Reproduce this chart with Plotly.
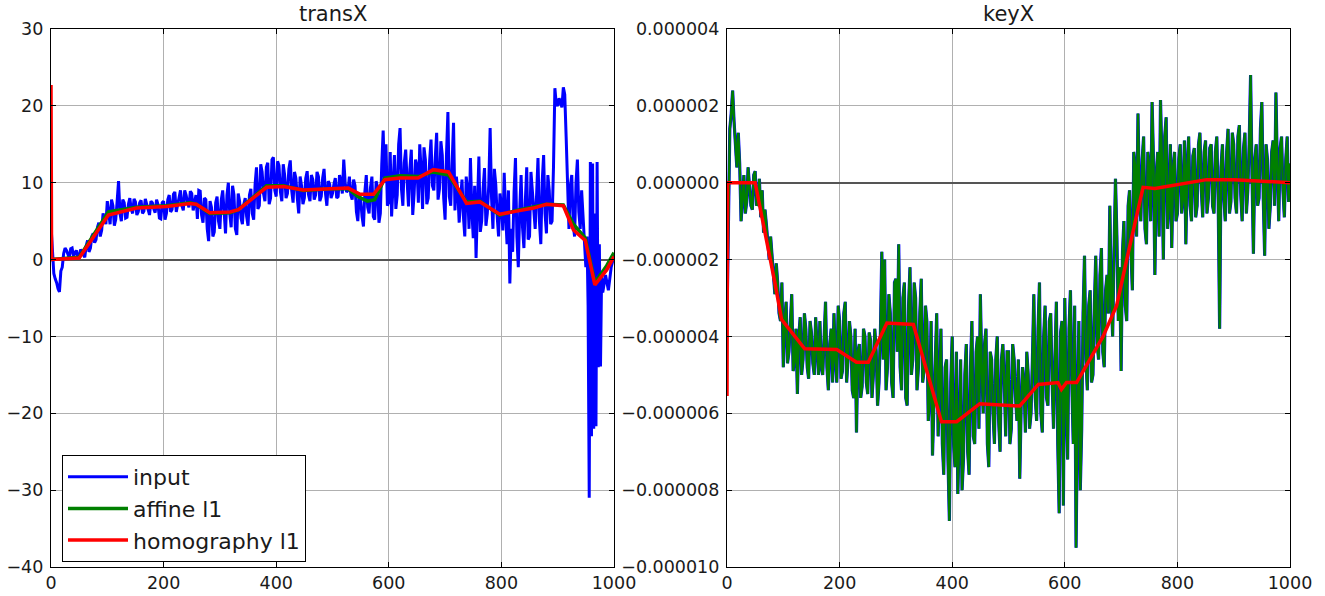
import plotly.graph_objects as go

# ---------------- data: transX ----------------
transx_x_main = list(range(0, 951, 5)) + [952, 954, 956, 958, 960, 962, 964, 966, 968, 970, 972, 974, 976, 978] + [980, 985, 990, 995, 1000]
transx_input_main = [
    4.5, -1.8, -3.0, -4.2, -1.0, 1.5, 0.6, 1.4, 0.5, 1.2,
    0.4, 1.0, 0.3, 2.5, 1.5, 3.4, 2.6, 4.8, 3.8, 5.3,
    7.6, 4.6, 7.0, 5.2, 10.2, 5.0, 7.4, 5.5, 8.0, 6.0,
    7.5, 6.2, 7.7, 6.3, 7.3, 5.8, 7.4, 6.1, 7.2, 5.3,
    7.6, 6.0, 8.4, 6.5, 8.8, 7.0, 9.0, 6.4, 8.4, 6.8,
    8.6, 7.2, 5.3, 8.9, 4.8, 7.8, 2.4, 6.8, 3.6, 8.2,
    4.0, 9.0, 3.4, 10.0, 4.2, 8.4, 3.2, 7.6, 4.6, 8.0,
    4.4, 9.2, 5.2, 12.0, 7.0, 11.4, 7.6, 12.6, 8.0, 13.3,
    8.2, 12.2, 7.6, 11.0, 8.6, 12.9, 7.4, 10.6, 6.0, 9.6,
    8.0, 11.5, 7.6, 10.4, 8.4, 10.8, 8.2, 11.8, 7.0, 9.8,
    8.6, 10.6, 8.2, 10.2, 13.0, 8.8, 10.8, 7.8, 9.6, 5.0,
    7.8, 4.3, 11.0, 6.0, 10.8, 5.2, 9.4, 6.0, 16.8, 15.0,
    7.6, 5.6, 13.6, 8.4, 17.1, 7.0, 14.3, 6.9, 14.3, 8.6,
    12.2, 15.0, 6.6, 13.0, 8.0, 15.6, 9.0, 16.5, 9.2, 13.6,
    5.2, 19.2, 7.0, 17.8, 10.8, 4.8, 10.4, 3.0, 9.0, 13.2,
    2.8, 0.2, 13.4, 5.0, 11.9, 6.0, 17.1, 4.0, 9.8, 3.0,
    7.2, 11.3, 2.0, -3.1, 1.0, 13.2, -1.0, 11.0, 1.5, 12.0,
    3.0, 9.0, 4.0, 13.2, 2.0, 13.6, 3.4, 9.0, 5.0, 22.3,
    20.0, 20.5, 22.4, 16.0, 4.0, 11.0, 3.0, 13.0, 4.0, 6.0,
    -1.0,
    3.0, -6.0, -31.0, 12.7, -23.0, 12.5, -22.0, 6.0, -21.7, 12.7, -14.0, 2.0, -13.9, -2.0,
    -4.3, -2.0, -4.0, -1.0, 0.5,
]
# readings taken half-way between the main readings (x = 2.5, 7.5, ..., 947.5)
transx_x_mid = [v + 2.5 for v in range(0, 950, 5)]
transx_input_mid = [
    0.5, -2.5, -3.8, -1.5, 0.8, 1.2, 0.2, 1.5, 0.9, 0.3,
    1.3, 0.6, 1.8, 1.0, 3.0, 2.2, 4.2, 3.0, 6.0, 4.6,
    5.6, 7.8, 4.4, 7.6, 6.0, 7.8, 5.4, 7.2, 6.6, 7.9,
    5.8, 7.4, 6.0, 7.9, 6.6, 7.6, 6.6, 7.8, 5.4, 7.4,
    5.2, 7.8, 6.2, 8.5, 6.2, 8.2, 7.0, 9.0, 7.4, 8.9,
    6.4, 8.4, 9.0, 5.8, 8.0, 4.0, 7.6, 3.0, 7.4, 5.0,
    7.8, 5.2, 8.4, 6.0, 9.6, 4.0, 8.6, 5.4, 7.2, 5.6,
    8.4, 6.0, 9.8, 6.6, 12.4, 8.6, 12.0, 7.2, 13.0, 9.0,
    12.8, 8.8, 12.4, 8.0, 11.8, 9.0, 11.4, 8.0, 10.8, 7.2,
    10.6, 8.4, 11.0, 7.8, 11.4, 7.6, 10.6, 8.6, 10.2, 8.0,
    9.8, 8.0, 11.0, 8.6, 10.0, 9.0, 8.4, 10.4, 6.2, 8.6,
    5.6, 8.8, 6.8, 9.4, 5.6, 10.2, 4.8, 12.4, 10.0, 7.0,
    14.0, 9.6, 6.6, 15.0, 9.2, 12.6, 10.2, 11.8, 5.8, 13.0,
    7.4, 11.4, 14.6, 7.2, 12.8, 9.6, 13.2, 7.8, 15.4, 8.0,
    13.8, 8.2, 12.6, 6.4, 9.0, 7.8, 5.6, 10.8, 4.0, 6.4,
    9.6, 7.0, 3.6, 9.2, 4.4, 9.6, 8.0, 11.8, 5.6, 8.6,
    3.8, 6.0, 9.0, 4.0, 8.8, 3.0, 6.4, 4.2, 7.6, 2.6,
    11.4, 5.6, 8.4, 5.0, 10.2, 6.0, 11.0, 4.6, 12.0, 20.2,
    21.0, 19.8, 21.5, 8.0, 9.6, 4.6, 10.0, 6.2, 9.0, 2.0,
]

transx_affine_x = [0, 50, 102, 152, 205, 247, 258, 282, 318, 333, 383, 413, 448, 496, 528, 545, 562, 575, 593,
                   620, 652, 679, 706, 738, 762, 797, 827, 857, 880, 910, 928, 949, 966, 987, 1000]
transx_affine = [0.0, 0.3, 6.2, 6.8, 7.0, 7.4, 7.2, 6.0, 6.1, 6.5, 9.6, 9.6, 9.0, 9.2, 9.2, 8.2, 7.6, 7.8, 10.6,
                 10.9, 10.8, 11.4, 11.0, 7.5, 7.6, 5.8, 6.4, 6.8, 7.2, 7.1, 4.6, 2.8, -3.0, -0.8, 0.9]

transx_homog_x = [0, 1, 50, 102, 152, 205, 247, 258, 282, 318, 333, 383, 413, 448, 496, 528, 549, 573, 593,
                  620, 652, 679, 706, 738, 762, 797, 827, 857, 880, 910, 928, 949, 966, 987, 1000]
transx_homog = [22.7, 0.0, 0.2, 5.8, 6.7, 6.9, 7.3, 7.2, 6.1, 6.2, 6.5, 9.4, 9.5, 9.05, 9.2, 9.3, 8.5, 8.5, 10.4,
                10.6, 10.6, 11.7, 11.4, 7.3, 7.5, 5.9, 6.3, 6.7, 7.2, 7.0, 3.85, 2.5, -3.3, -1.35, 0.4]

# ---------------- data: keyX (values in units of 1e-6) ----------------
keyx_x_main = list(range(0, 1001, 5))
keyx_input_main_micro = [
    -3.5, 1.4, 2.4, 1.1, 1.3, -1.0, 0.2, -0.5, 0.0, -0.7,
    0.3, -0.5, -0.9, -1.3, -1.1, -2.0, -1.8, -2.9, -2.6, -3.6,
    -4.8, -3.1, -4.4, -2.9, -4.6, -5.5, -3.5, -4.6, -3.8, -5.1,
    -3.9, -5.0, -4.2, -3.6, -5.0, -3.1, -5.4, -3.8, -3.4, -5.2,
    -3.6, -4.9, -3.1, -4.6, -4.0, -5.6, -6.5, -4.2, -5.3, -4.0,
    -5.5, -4.1, -5.0, -4.4, -5.2, -1.8, -2.0, -4.8, -3.4, -5.6,
    -2.5, -1.6, -5.4, -2.6, -5.8, -2.2, -4.6, -3.0, -4.8, -2.5,
    -4.9, -3.6, -5.6, -7.1, -4.2, -6.6, -3.8, -7.6, -4.6, -8.8,
    -4.0, -7.4, -8.1, -4.6, -7.2, -4.2, -7.6, -3.6, -6.8, -4.0,
    -2.9, -6.0, -3.8, -7.4, -4.6, -6.8, -4.0, -7.0, -4.2, -6.6,
    -4.4, -6.4, -4.6, -6.2, -7.7, -4.8, -6.5, -5.0, -6.0, -2.9,
    -6.2, -2.6, -6.5, -3.2, -5.8, -3.4, -6.4, -3.1, -8.6, -3.6,
    -3.0, -7.2, -2.8, -6.8, -9.5, -3.6, -6.4, -1.9, -5.4, -2.8,
    -5.0, -1.9, -4.6, -1.7, -4.8, -2.4, -0.6, -4.0, 0.1, -3.6,
    -4.9, -1.0, -3.6, -0.2, -2.8, 0.4, 1.8, -1.0, 1.2, -1.6,
    0.4, 2.1, -2.4, 0.8, 2.15, -2.0, 1.7, -0.6, -1.7, 0.8,
    -0.8, 1.0, -0.4, -1.6, 1.2, -1.0, 0.9, -0.6, 1.3, -0.9,
    1.1, -0.4, 1.0, -0.8, 1.2, -3.8, 1.0, -1.0, 1.4, -0.5,
    1.0, -0.8, 1.5, -1.0, 1.3, -0.2, 2.8, -1.85, 1.0, -0.4,
    2.1, -1.9, 0.6, -0.6, 1.1, 2.35, -1.0, 1.2, -0.9, 1.2, 0.5,
]
keyx_x_mid = [v + 2.5 for v in range(0, 1000, 5)]
keyx_input_mid_micro = [
    -0.5, 1.8, 1.6, 0.4, 0.5, -0.3, -0.8, 0.4, -0.6, 0.2,
    -0.6, 0.1, -0.2, -0.7, -1.6, -1.4, -2.4, -2.1, -3.4, -2.6,
    -3.6, -4.7, -3.5, -4.9, -3.8, -4.0, -5.0, -3.4, -4.8, -3.6,
    -4.7, -3.5, -5.0, -4.8, -3.8, -4.8, -4.2, -5.2, -4.6, -3.2,
    -5.1, -3.4, -5.2, -3.6, -5.4, -3.8, -4.4, -5.6, -3.8, -5.2,
    -3.9, -5.6, -3.8, -5.8, -3.9, -4.6, -5.4, -2.9, -5.2, -2.6,
    -4.4, -4.8, -3.0, -5.6, -3.2, -5.0, -2.6, -5.4, -3.4, -5.2,
    -3.2, -6.2, -3.6, -5.8, -3.4, -5.4, -6.8, -4.8, -7.2, -5.2,
    -6.8, -4.4, -6.6, -8.0, -5.0, -7.0, -4.8, -6.6, -4.4, -6.4,
    -4.8, -4.2, -6.8, -4.4, -6.0, -4.6, -6.2, -4.6, -5.2, -4.4,
    -6.8, -4.2, -5.6, -4.6, -5.8, -5.2, -4.4, -6.4, -4.6, -5.6,
    -3.8, -6.0, -4.0, -5.6, -3.6, -5.2, -4.6, -6.8, -3.9, -8.4,
    -5.6, -3.8, -5.2, -3.2, -6.0, -8.0, -3.4, -4.6, -3.2, -5.2,
    -3.2, -4.2, -2.4, -4.4, -2.8, -3.4, -3.0, -1.8, -1.4, -2.2,
    -1.8, -3.2, -0.6, -1.8, 0.8, -1.4, -0.4, 0.6, -1.2, 0.8,
    -1.0, 0.6, 0.2, -1.4, 0.6, 1.2, -1.2, 1.0, 0.4, -1.0,
    0.6, -0.8, 1.1, 0.4, -0.6, 0.7, -0.9, 1.0, -0.2, 0.8,
    -0.8, 0.9, -0.6, 0.8, -0.5, 0.4, -0.4, 0.8, -0.8, 1.3,
    -0.4, 1.2, -0.3, 0.9, -0.8, 1.0, 0.2, 0.6, -0.6, 1.4,
    -0.4, 1.0, -1.2, 0.8, -0.6, 0.4, 0.9, -0.2, 0.6, -0.5,
]

keyx_homog_x = [0, 1, 50, 76, 85, 97, 138, 195, 230, 251, 284, 331, 381, 408, 449, 520, 553, 588, 594, 603,
                621, 668, 692, 710, 739, 760, 781, 852, 900, 1000]
keyx_homog_micro = [-5.55, 0.0, 0.0, -1.9, -2.6, -3.56, -4.32, -4.34, -4.67, -4.67, -3.65, -3.69, -6.22, -6.22,
                    -5.75, -5.81, -5.25, -5.2, -5.38, -5.2, -5.2, -4.0, -3.2, -2.0, -0.12, -0.15, -0.1, 0.08,
                    0.08, 0.0]

# ---------------- labels ----------------
titles = ["transX", "keyX"]
series_names = ["input", "affine l1", "homography l1"]
x_ticks = [0, 200, 400, 600, 800, 1000]
left_yticks = [-40, -30, -20, -10, 0, 10, 20, 30]
right_yticks = [-1e-5, -8e-6, -6e-6, -4e-6, -2e-6, 0, 2e-6, 4e-6]
right_ytext = ["\u22120.000010", "\u22120.000008", "\u22120.000006", "\u22120.000004", "\u22120.000002",
               "0.000000", "0.000002", "0.000004"]


def merge(xa, ya, xb, yb):
    pts = sorted(zip(list(xa) + list(xb), list(ya) + list(yb)))
    return [p[0] for p in pts], [p[1] for p in pts]


transx_x, transx_input = merge(transx_x_main, transx_input_main, transx_x_mid, transx_input_mid)
MICRO = 1e-6
keyx_x, keyx_input_micro = merge(keyx_x_main, keyx_input_main_micro, keyx_x_mid, keyx_input_mid_micro)
keyx_input = [v * MICRO for v in keyx_input_micro]
keyx_affine = list(keyx_input)          # affine l1 coincides with the input on keyX
keyx_homog = [v * MICRO for v in keyx_homog_micro]

BLUE, GREEN, RED = "#0000ff", "#008000", "#ff0000"
FONT = "DejaVu Sans"
TXT = "#1a1a1a"
W, H = 1325, 596

fig = go.Figure()
fig.add_trace(go.Scatter(x=transx_x, y=transx_input, mode="lines", name=series_names[0],
                         line=dict(color=BLUE, width=3.0), xaxis="x", yaxis="y", legendgroup="a"))
fig.add_trace(go.Scatter(x=transx_affine_x, y=transx_affine, mode="lines", name=series_names[1],
                         line=dict(color=GREEN, width=3.5), xaxis="x", yaxis="y", legendgroup="b"))
fig.add_trace(go.Scatter(x=transx_homog_x, y=transx_homog, mode="lines", name=series_names[2],
                         line=dict(color=RED, width=3.5), xaxis="x", yaxis="y", legendgroup="c"))

fig.add_trace(go.Scatter(x=keyx_x, y=keyx_input, mode="lines", name=series_names[0], showlegend=False,
                         line=dict(color=BLUE, width=3.2), xaxis="x2", yaxis="y2"))
fig.add_trace(go.Scatter(x=keyx_x, y=keyx_affine, mode="lines", name=series_names[1], showlegend=False,
                         line=dict(color=GREEN, width=2.4), xaxis="x2", yaxis="y2"))
fig.add_trace(go.Scatter(x=keyx_homog_x, y=keyx_homog, mode="lines", name=series_names[2], showlegend=False,
                         line=dict(color=RED, width=3.5), xaxis="x2", yaxis="y2"))

x1dom = [51 / W, 614 / W]
x2dom = [727 / W, 1290 / W]
ydom = [(H - 567) / H, (H - 29) / H]

axis_common = dict(showline=True, linecolor="black", linewidth=1.2, mirror="ticks", ticks="inside",
                   ticklen=5, tickcolor="black", showgrid=True, gridcolor="#b0b0b0", gridwidth=1,
                   tickfont=dict(family=FONT, size=17.5, color=TXT), automargin=False)

fig.update_layout(
    width=W, height=H,
    margin=dict(l=0, r=0, t=0, b=0),
    paper_bgcolor="white", plot_bgcolor="white",
    font=dict(family=FONT),
    xaxis=dict(domain=x1dom, range=[0, 1000], tickvals=x_ticks, anchor="y", zeroline=False, **axis_common),
    yaxis=dict(domain=ydom, range=[-40, 30], tickvals=left_yticks, anchor="x", zeroline=True,
               zerolinecolor="#555555", zerolinewidth=1.5, ticklabelstandoff=3, **axis_common),
    xaxis2=dict(domain=x2dom, range=[0, 1000], tickvals=x_ticks, anchor="y2", zeroline=False, **axis_common),
    yaxis2=dict(domain=ydom, range=[-1e-5, 4e-6], tickvals=right_yticks, ticktext=right_ytext, anchor="x2",
                zeroline=True, zerolinecolor="#555555", zerolinewidth=1.5, ticklabelstandoff=3, **axis_common),
    legend=dict(x=62 / W, y=(H - 455) / H, xanchor="left", yanchor="top", bgcolor="white",
                bordercolor="black", borderwidth=1, font=dict(family=FONT, size=22, color=TXT),
                tracegroupgap=0, itemwidth=60),
    annotations=[
        dict(text=titles[0], x=(x1dom[0] + x1dom[1]) / 2, y=(H - 14) / H, xref="paper", yref="paper",
             showarrow=False, xanchor="center", yanchor="middle", font=dict(family=FONT, size=21, color=TXT)),
        dict(text=titles[1], x=(x2dom[0] + x2dom[1]) / 2, y=(H - 14) / H, xref="paper", yref="paper",
             showarrow=False, xanchor="center", yanchor="middle", font=dict(family=FONT, size=21, color=TXT)),
    ],
)

fig.write_html("out.html", config={"displayModeBar": False},
               post_script="document.body.style.margin='0px';document.body.style.overflow='hidden';")
